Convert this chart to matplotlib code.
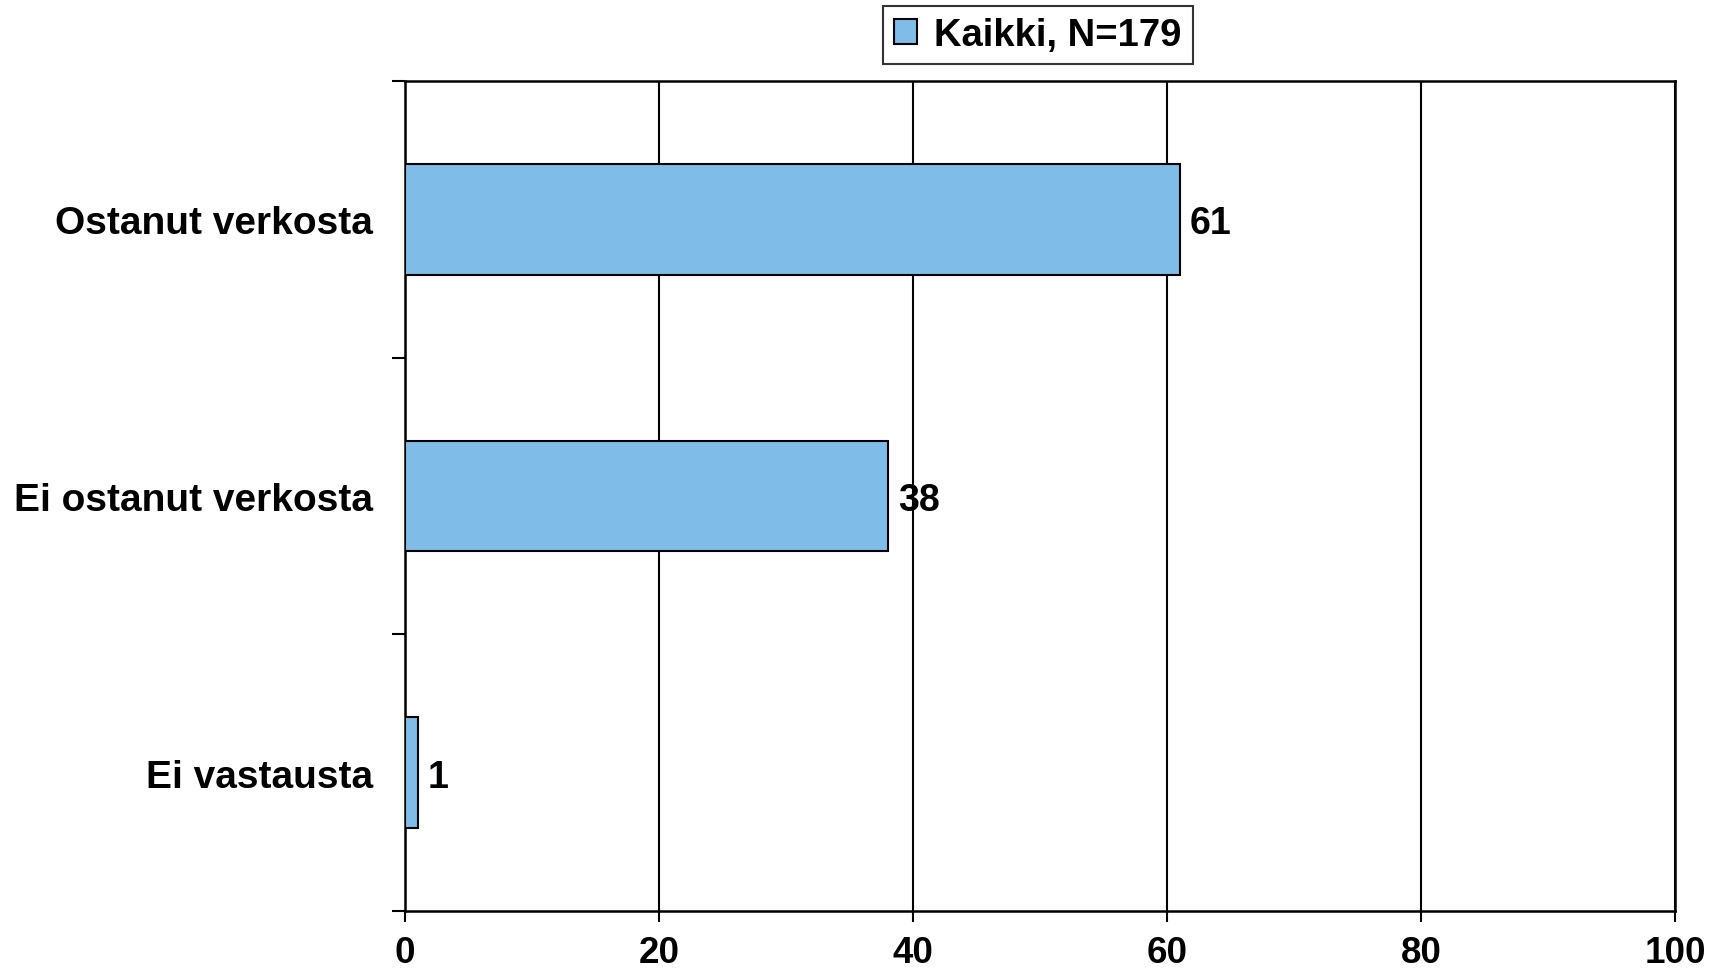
import matplotlib
matplotlib.use("Agg")
import matplotlib.pyplot as plt
from matplotlib.ticker import FixedLocator, NullFormatter

categories = ["Ostanut verkosta", "Ei ostanut verkosta", "Ei vastausta"]
values = [61, 38, 1]
series_name = "Kaikki, N=179"
x_ticks = [0, 20, 40, 60, 80, 100]

plt.rcParams['font.family'] = ['Liberation Sans', 'DejaVu Sans']
plt.rcParams['font.weight'] = 'bold'

W, H = 1722, 979
fig = plt.figure(figsize=(W / 100, H / 100), dpi=100)
ax = fig.add_axes([405 / W, 1 - 912 / H, (1675 - 405) / W, (912 - 82) / H])

ypos = list(range(len(categories)))
bars = ax.barh(ypos, values, height=0.4, color='#7fbde8', edgecolor='black',
               linewidth=1.5, label=series_name, zorder=3)

for y, v in zip(ypos, values):
    ax.text(v + 0.8, y, f"{v}", va='center_baseline', ha='left', fontsize=27,
            fontweight='bold', zorder=4)

ax.set_xlim(0, 100)
ax.set_ylim(len(categories) - 0.5, -0.5)

ax.set_xticks(x_ticks)
ax.set_xticklabels([str(t) for t in x_ticks], fontsize=26.5, fontweight='bold')
ax.tick_params(axis='x', length=8, width=1.5, pad=9, direction='out')

ax.yaxis.set_major_locator(FixedLocator([i - 0.5 for i in range(len(categories) + 1)]))
ax.yaxis.set_major_formatter(NullFormatter())
ax.yaxis.set_minor_locator(FixedLocator(ypos))
ax.set_yticklabels(categories, minor=True, fontsize=28, fontweight='bold')
ax.tick_params(axis='y', which='major', length=9.5, width=1.5, direction='out')
ax.tick_params(axis='y', which='minor', length=0, pad=23)

ax.grid(axis='x', color='black', linewidth=1.5, zorder=0)
ax.set_axisbelow(True)
for s in ax.spines.values():
    s.set_linewidth(1.8)
    s.set_color('black')

leg = fig.legend(handles=[bars], labels=[series_name], loc='center',
                 bbox_to_anchor=(1038 / W, 1 - 36 / H),
                 prop={'weight': 'bold', 'size': 27.5},
                 frameon=True, fancybox=False, shadow=False,
                 handlelength=0.6, handleheight=0.6, handletextpad=0.45,
                 borderpad=0.3, borderaxespad=0)
leg.get_frame().set_edgecolor('black')
leg.get_frame().set_linewidth(1.5)

fig.savefig("out.png", dpi=100, facecolor='white')
